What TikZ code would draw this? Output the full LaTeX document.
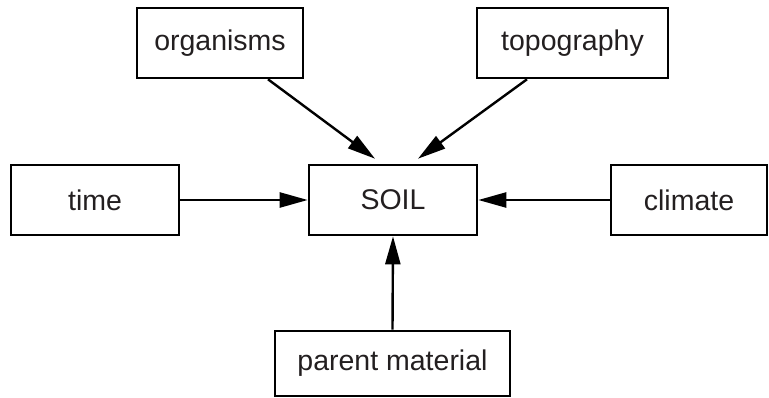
\documentclass[tikz,border=0pt]{standalone}
\usepackage{fontspec}
\setmainfont{Liberation Sans}
\usetikzlibrary{arrows.meta,calc}
\definecolor{txt}{HTML}{231F20}
\begin{document}
\begin{tikzpicture}[x=1pt,y=-1pt,
  box/.style={draw=black,line width=2.6pt,inner sep=0pt,minimum height=70pt,
    text=txt,font=\fontsize{28.5}{32}\selectfont},
  arr/.style={line width=2.4pt,-{Triangle[length=28pt,width=15pt]}}]
\useasboundingbox (0,0) rectangle (769,398);
\node[box,minimum width=166pt] (org) at (220,43) {organisms};
\node[box,minimum width=191pt] (topo) at (572.5,43) {topography};
\node[box,minimum width=168pt] (time) at (95,200) {time};
\node[box,minimum width=168pt] (soil) at (393,200) {SOIL};
\node[box,minimum width=156pt] (clim) at (689,200) {climate};
\node[box,minimum width=235pt,minimum height=65pt] (pm) at (392.5,363.5) {parent material};
\draw[arr] ($(org.south)+(48,0)$) -- ($(soil.north)+(-18,-5)$);
\draw[arr] ($(topo.south)+(-45.5,0)$) -- ($(soil.north)+(25,-5)$);
\draw[arr] (time.east) -- (soil.west);
\draw[arr] (clim.west) -- (soil.east);
\draw[arr] (pm.north) -- (soil.south);
\end{tikzpicture}
\end{document}
